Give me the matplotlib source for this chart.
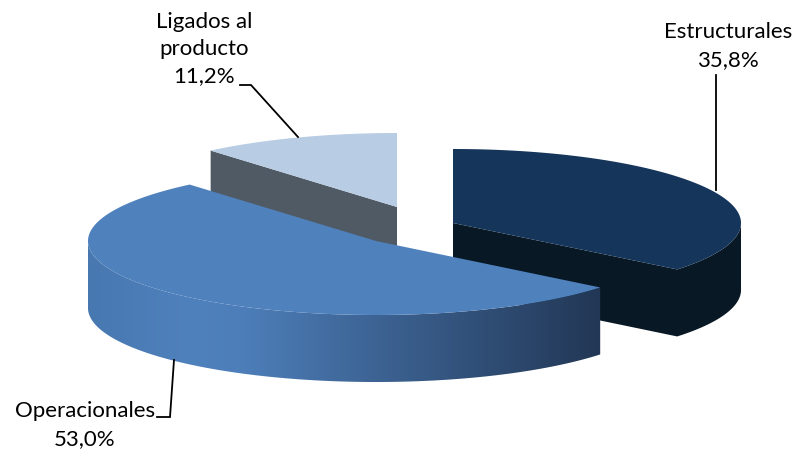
import matplotlib
matplotlib.use('Agg')
import matplotlib.pyplot as plt
import numpy as np
from matplotlib.colors import LinearSegmentedColormap
from matplotlib.patches import Polygon

plt.rcParams['font.family'] = ['Lato', 'DejaVu Sans']

categories = ['Estructurales', 'Operacionales', 'Ligados al\nproducto']
shares = [35.8, 53.0, 11.2]

# centro de cada porcion separada, en pixeles
centers = [(453, 223), (376, 241), (397, 207)]
rx, ry, depth = 288, 74, 67

top_colors = ['#15355b', '#4f81bd', '#b8cce4']
wall_colors = ['#081824', None, '#505a64']

fig = plt.figure(figsize=(7.96, 4.53), dpi=100)
ax = fig.add_axes([0, 0, 1, 1])


def rim(center, a1, a2, dy=0):
    # arco de la elipse, angulos en grados desde arriba en sentido horario
    t = np.radians(np.linspace(a1, a2, 200))
    return np.column_stack([center[0] + rx*np.sin(t), center[1] - ry*np.cos(t) + dy])


starts = np.cumsum([0] + shares[:-1]) * 3.6
ends = np.cumsum(shares) * 3.6
wedges = list(zip(centers, starts, ends))

# Ligados al producto: cara de corte y tapa
c, a1, a2 = wedges[2]
p = rim(c, a1, a1)[0]
ax.add_patch(Polygon([c, p, p + [0, depth], np.add(c, [0, depth])],
                     fc=wall_colors[2], lw=0, zorder=1))
ax.add_patch(Polygon(np.vstack([[c], rim(c, a1, a2)]), fc=top_colors[2], lw=0, zorder=2))

# Estructurales: pared exterior y cara de corte en un solo contorno, y tapa
c, a1, a2 = wedges[0]
ax.add_patch(Polygon(np.vstack([[c], rim(c, a2, 90), rim(c, 90, a2, depth), [np.add(c, [0, depth])]]),
                     fc=wall_colors[0], lw=0, zorder=3))
ax.add_patch(Polygon(np.vstack([[c], rim(c, a1, a2)]), fc=top_colors[0], lw=0, zorder=4))

# Operacionales: pared con degradado y tapa
c, a1, a2 = wedges[1]
wall = Polygon(np.vstack([rim(c, a1, 270), rim(c, 270, a1, depth)]), fc='none', lw=0)
ax.add_patch(wall)
cmap = LinearSegmentedColormap.from_list('pared', [(0, '#4878b0'), (0.2, '#4f81bd'),
                                                   (0.3, '#4d7eb9'), (1, '#223755')])
im = ax.imshow(np.linspace(0, 1, 256)[None, :], cmap=cmap, aspect='auto',
               extent=(88, 601, 400, 180), zorder=5)
im.set_clip_path(wall)
ax.add_patch(Polygon(np.vstack([[c], rim(c, a1, a2)]), fc=top_colors[1], lw=0, zorder=6))

# lineas guia
line = dict(color='black', lw=1.3, zorder=7, solid_joinstyle='miter')
ax.plot([716, 716], [75, 190], **line)
ax.plot([174, 170, 157], [360, 417, 417], **line)
ax.plot([240, 251, 298], [85, 85, 137], **line)

# etiquetas
label_pos = [(728, 46), (85, 425), (204, 49)]
for name, share, (x, y) in zip(categories, shares, label_pos):
    ax.text(x, y, name + '\n' + f'{share:.1f}%'.replace('.', ','), ha='center', va='center',
            fontsize=16, color='black', linespacing=1.45, zorder=8)

ax.set_xlim(0, 796)
ax.set_ylim(453, 0)
ax.axis('off')

fig.savefig('out.png', dpi=100)
